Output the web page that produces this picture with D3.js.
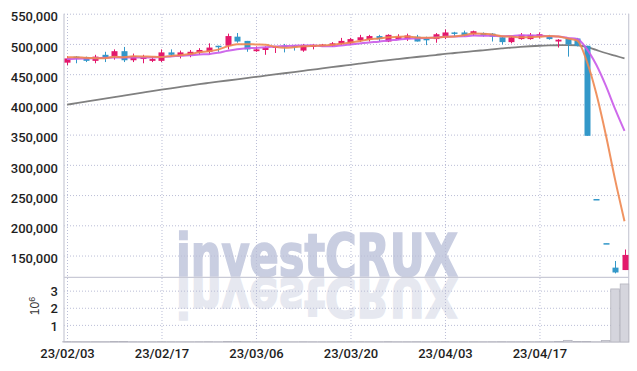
<!DOCTYPE html>
<html lang="en">
<head>
<meta charset="UTF-8">
<title>Candlestick chart</title>
<script src="https://d3js.org/d3.v7.min.js"></script>
<style>
  body { margin: 0; background: #fff; }
  svg { display: block; }
</style>
</head>
<body>
<svg width="637" height="371"></svg>
<script>
// trading days (yy/mm/dd)
const dates = ["23/02/03","23/02/06","23/02/07","23/02/08","23/02/09","23/02/10","23/02/13","23/02/14","23/02/15","23/02/16",
  "23/02/17","23/02/20","23/02/21","23/02/22","23/02/23","23/02/24","23/02/27","23/02/28","23/03/02","23/03/03",
  "23/03/06","23/03/07","23/03/08","23/03/09","23/03/10","23/03/13","23/03/14","23/03/15","23/03/16","23/03/17",
  "23/03/20","23/03/21","23/03/22","23/03/23","23/03/24","23/03/27","23/03/28","23/03/29","23/03/30","23/03/31",
  "23/04/03","23/04/04","23/04/05","23/04/06","23/04/07","23/04/10","23/04/11","23/04/12","23/04/13","23/04/14",
  "23/04/17","23/04/18","23/04/19","23/04/20","23/04/21","23/04/24","23/04/25","23/04/26","23/04/27","23/04/28"];

// prices in thousands of won
const open = [469,479,478,472,482,480,488,473,475,472,
  472,486,480,482,486,487,497,497,512,505,
  488,490,494,497,497,489,495,496,497,500,
  501,506,507,513,504,508,508,512,509,508,
  511,519,519,516,518,517,511,503,508,508,
  512,513,504,509,509,497,243.5,170.5,130,126];
const high = [480,480,479,482,487,491,495,484,482,479,
  491,491,489,490,493,501,497,517,518,505,
  496,496,496,500,498,500,500,500,503,510,
  510,515,515,515,516,516,517,515,512,518,
  524,520,522,522,519,518,512,513,518,518,
  519,515,508,509,510,497,243.5,170.5,141,160];
const low = [465,468,470,468,470,474,470,470,468,470,
  470,479,476,478,482,482,487,491,502,487,
  487,482,485,486,489,487,491,495,495,498,
  498,503,504,504,503,507,505,504,498,502,
  508,512,512,513,512,504,499,501,507,507,
  509,507,494,479,496,348,243,170,120.5,126];
const close = [476,476,472,479,478,488,473,480,478,475,
  486,482,486,487,490,494,496,513,504,491,
  491,494,496,496,496,498,498,499,501,505,
  508,511,513,508,515,512,514,504,506,516,
  519,517,514,521,514,512,503,511,515,515,
  516,508,507,499,497,348,243,170,122,151];

// moving averages
const ma5 = [478,478,477,476.5,476.2,478.6,478,479.6,479.4,478.8,
  478.4,480.2,481.4,483.2,486.2,487.8,490.6,496,499.4,499.6,
  499,498.6,495.2,493.6,494.6,496,496.8,497.4,498.4,500.2,
  502.2,504.8,507.6,509,511,511.8,512.4,510.6,510.2,510.4,
  511.8,512.4,514.4,517.4,517,515.6,512.8,512.2,511,511.2,
  512,513,512.2,509,505.4,471.8,418.8,351.4,276,206.8];
const ma10 = [475,475.5,476,476.5,477,477.5,477.5,477.5,477.5,477.5,
  478.5,479.1,480.5,481.3,482.5,483.1,485.4,488.7,491.3,492.9,
  493.4,494.6,495.6,496.5,497.1,497.5,497.7,496.3,496,497.4,
  499.1,500.8,502.5,503.7,505.6,507,508.6,509.1,509.6,510.7,
  511.8,512.4,512.5,513.8,513.7,513.7,512.6,513.3,514.2,514.1,
  513.8,512.9,512.2,510,508.3,491.9,465.9,431.8,392.5,356.1];
const ma60 = [399.5,402,404.5,407,409.5,412,414.5,417,419.5,422,
  424.3,426.6,428.9,431.2,433.5,435.5,437.5,439.5,441.5,443.5,
  445.5,447.5,449.5,451.5,453.5,455.5,457.5,459.5,461.5,463.5,
  465.5,467.5,469.5,471.5,473.3,475,476.7,478.4,480,481.6,
  483.5,485,486.6,488,489.5,491,492.5,494,495.2,496.2,
  497,497.5,497.8,498,497.8,495,490,485,480.5,476];

// volume in shares
const volume = [21000,18000,15000,17000,16000,24000,26000,14000,12000,13000,
  19000,15000,14000,13000,16000,20000,12000,35000,28000,22000,
  15000,14000,11000,12000,10000,16000,12000,11000,13000,17000,
  18000,20000,17000,15000,22000,14000,15000,18000,14000,20000,
  22000,13000,14000,16000,12000,15000,19000,16000,14000,13000,
  15000,16000,25000,95000,30000,30000,8000,90000,3100000,3390000];

const priceTicks = [150,200,250,300,350,400,450,500,550];
const volTicks = [1e6,2e6,3e6];
const dateTicks = [0,10,20,30,40,50];

const svg = d3.select('svg');
const plotL = 64, plotR = 628.7, plotT = 13.7, plotSep = 277.3, plotB = 342;
const UP = '#e3186b', DOWN = '#3398c9';
const gridColor = '#babdd6', frameColor = '#c9cad6';
const tickFont = 'Roboto, "Liberation Sans", Arial, sans-serif';
const wmFont = '"DejaVu Sans Condensed", "DejaVu Sans", sans-serif';

const x = d3.scaleLinear().domain([0, 59]).range([67, 624.5]);
const y = d3.scaleLinear().domain([114, 550]).range([plotSep, plotT]);
const yv = d3.scaleLinear().domain([0, 3.78e6]).range([plotB, plotSep]);

// watermark + reflection
const wm = svg.append('g');
wm.append('text')
  .attr('x', 176).attr('y', 275.5)
  .attr('textLength', 282).attr('lengthAdjust', 'spacingAndGlyphs')
  .style('font-family', wmFont)
  .style('font-weight', 'bold').style('font-size', '58px')
  .style('fill', '#c9cee1').style('stroke', '#c9cee1').style('stroke-width', 1.6)
  .text('investCRUX');
wm.append('text')
  .attr('x', 176).attr('y', 275.5)
  .attr('transform', 'translate(0,' + plotSep + ') scale(1,-0.92) translate(0,' + (-plotSep) + ')')
  .attr('textLength', 282).attr('lengthAdjust', 'spacingAndGlyphs')
  .style('font-family', wmFont)
  .style('font-weight', 'bold').style('font-size', '58px')
  .style('fill', '#e6e8f0').style('stroke', '#e6e8f0').style('stroke-width', 1.6)
  .text('investCRUX');

function styleAxis(g) {
  g.select('.domain').remove();
  g.selectAll('.tick line').attr('stroke', gridColor).attr('stroke-dasharray', '1,2');
  g.selectAll('.tick text')
    .attr('fill', '#1e1e1e')
    .style('font-family', tickFont)
    .style('font-weight', 500)
    .style('font-size', '13px');
}

// price axis + grid
svg.append('g')
  .attr('transform', 'translate(' + plotL + ',0)')
  .call(d3.axisLeft(y).tickValues(priceTicks)
    .tickFormat(d => d3.format(',')(d * 1000))
    .tickSizeInner(-(plotR - plotL)).tickSizeOuter(0).tickPadding(6))
  .call(styleAxis)
  .call(g => g.selectAll('.tick text').attr('dy', '0.56em'));

// volume axis + grid
svg.append('g')
  .attr('transform', 'translate(' + plotL + ',0)')
  .call(d3.axisLeft(yv).tickValues(volTicks)
    .tickFormat(d => d / 1e6)
    .tickSizeInner(-(plotR - plotL)).tickSizeOuter(0).tickPadding(6))
  .call(styleAxis)
  .call(g => g.selectAll('.tick text').attr('dy', '0.4em'));

// date axis + vertical grid
svg.append('g')
  .attr('transform', 'translate(0,' + plotB + ')')
  .call(d3.axisBottom(x).tickValues(dateTicks)
    .tickFormat(i => dates[i])
    .tickSizeInner(-(plotB - plotT)).tickSizeOuter(0).tickPadding(7))
  .call(styleAxis);

// frame
svg.append('path')
  .attr('d', `M${plotL},${plotT}V${plotB}H${plotR}V${plotT}M${plotL},${plotSep}H${plotR}`)
  .attr('fill', 'none').attr('stroke', frameColor).attr('stroke-width', 1.2);

// volume label 10^6
const vl = svg.append('text')
  .attr('transform', 'translate(39,306) rotate(-90)')
  .attr('text-anchor', 'middle')
  .style('font-family', '"Liberation Sans", Arial, sans-serif')
  .style('font-size', '12px').attr('fill', '#333');
vl.append('tspan').text('10');
vl.append('tspan').attr('dy', '-0.45em').style('font-size', '9px').text('6');

// volume bars
svg.append('g').selectAll('rect').data(volume).enter().append('rect')
  .attr('x', (d, i) => x(i) - 4.3)
  .attr('width', 8.6)
  .attr('y', d => yv(d))
  .attr('height', d => plotB - yv(d))
  .attr('fill', '#d5d5dd').attr('stroke', '#b4b4be').attr('stroke-width', 0.8);

// MA60 under candles
const line = arr => d3.line().x((d, i) => x(i)).y(d => y(d)).curve(d3.curveMonotoneX)(arr);
svg.append('path').attr('d', line(ma60))
  .attr('fill', 'none').attr('stroke', '#808080').attr('stroke-width', 1.8);

// candles
const candles = svg.append('g').selectAll('g').data(close).enter().append('g')
  .attr('fill', (d, i) => d >= open[i] ? UP : DOWN)
  .attr('stroke', (d, i) => d >= open[i] ? UP : DOWN);
candles.append('line')
  .attr('x1', (d, i) => Math.round(x(i)) + 0.5).attr('x2', (d, i) => Math.round(x(i)) + 0.5)
  .attr('y1', (d, i) => y(high[i])).attr('y2', (d, i) => y(low[i]))
  .attr('stroke-width', 1);
candles.append('rect')
  .attr('x', (d, i) => Math.round(x(i)) - 2.5)
  .attr('width', 6)
  .attr('y', (d, i) => y(Math.max(open[i], d)))
  .attr('height', (d, i) => Math.max(1.5, Math.abs(y(open[i]) - y(d))))
  .attr('stroke', 'none');

// short MAs on top
svg.append('path').attr('d', line(ma10))
  .attr('fill', 'none').attr('stroke', '#c95ae9').attr('stroke-width', 2).attr('opacity', 0.9);
svg.append('path').attr('d', line(ma5))
  .attr('fill', 'none').attr('stroke', '#ee8750').attr('stroke-width', 2).attr('opacity', 0.9);
</script>
</body>
</html>
